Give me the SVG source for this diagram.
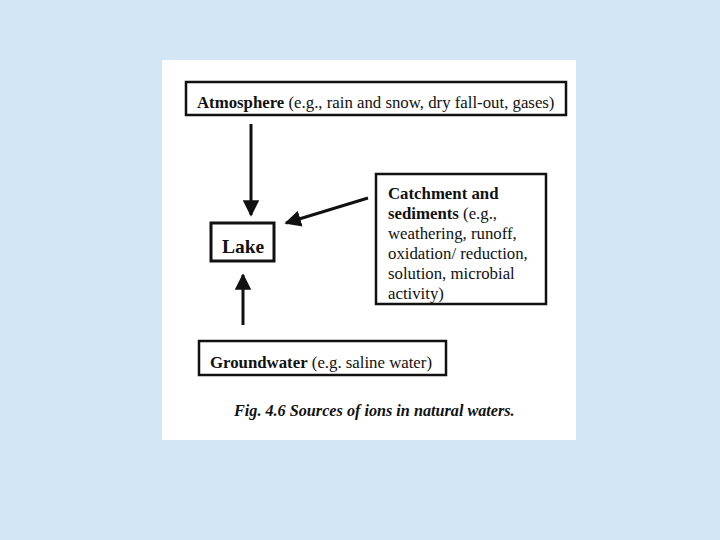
<svg xmlns="http://www.w3.org/2000/svg" width="720" height="540" viewBox="0 0 720 540">
<defs>
<style>
.box{fill:#fff;stroke:#111;stroke-width:2.5}
.t{font-family:"Liberation Serif","Times New Roman",serif;font-size:16.8px;fill:#111}
.b{font-weight:bold}
.edge{stroke:#111;stroke-width:3;fill:none}
</style>
<marker id="ah" viewBox="0 0 10 10" refX="9" refY="5" markerWidth="5.5" markerHeight="5.5" orient="auto" markerUnits="strokeWidth">
<path d="M0,0 L10,5 L0,10 z" fill="#111"/>
</marker>
</defs>
<rect x="0" y="0" width="720" height="540" fill="#d3e6f6"/>
<rect x="162" y="60" width="414" height="380" fill="#fff"/>
<g id="atmosphere">
<rect class="box" x="186" y="82" width="380" height="33"/>
<text class="t" x="197" y="108"><tspan class="b">Atmosphere</tspan> (e.g., rain and snow, dry fall-out, gases)</text>
</g>
<g id="lake">
<rect class="box" x="211" y="223" width="63" height="38" style="stroke-width:3"/>
<text class="t b" x="222" y="253" style="font-size:19.5px">Lake</text>
</g>
<g id="catchment">
<rect class="box" x="376" y="174" width="170" height="130"/>
<text class="t" x="388" y="199"><tspan class="b">Catchment and</tspan><tspan x="388" dy="20"><tspan class="b">sediments</tspan> (e.g.,</tspan><tspan x="388" dy="20">weathering, runoff,</tspan><tspan x="388" dy="20">oxidation/ reduction,</tspan><tspan x="388" dy="20">solution, microbial</tspan><tspan x="388" dy="20">activity)</tspan></text>
</g>
<g id="groundwater">
<rect class="box" x="199" y="341" width="247" height="34"/>
<text class="t" x="210" y="368"><tspan class="b">Groundwater</tspan> (e.g. saline water)</text>
</g>
<g id="caption">
<text class="t b" x="234" y="416" style="font-size:16.2px;font-style:italic">Fig. 4.6 Sources of ions in natural waters.</text>
</g>
<g id="connectors">
<line class="edge" x1="251" y1="124" x2="251" y2="215" marker-end="url(#ah)"/>
<line class="edge" x1="368" y1="198" x2="286" y2="223" marker-end="url(#ah)"/>
<line class="edge" x1="243" y1="325" x2="243" y2="275" marker-end="url(#ah)"/>
</g>
</svg>
